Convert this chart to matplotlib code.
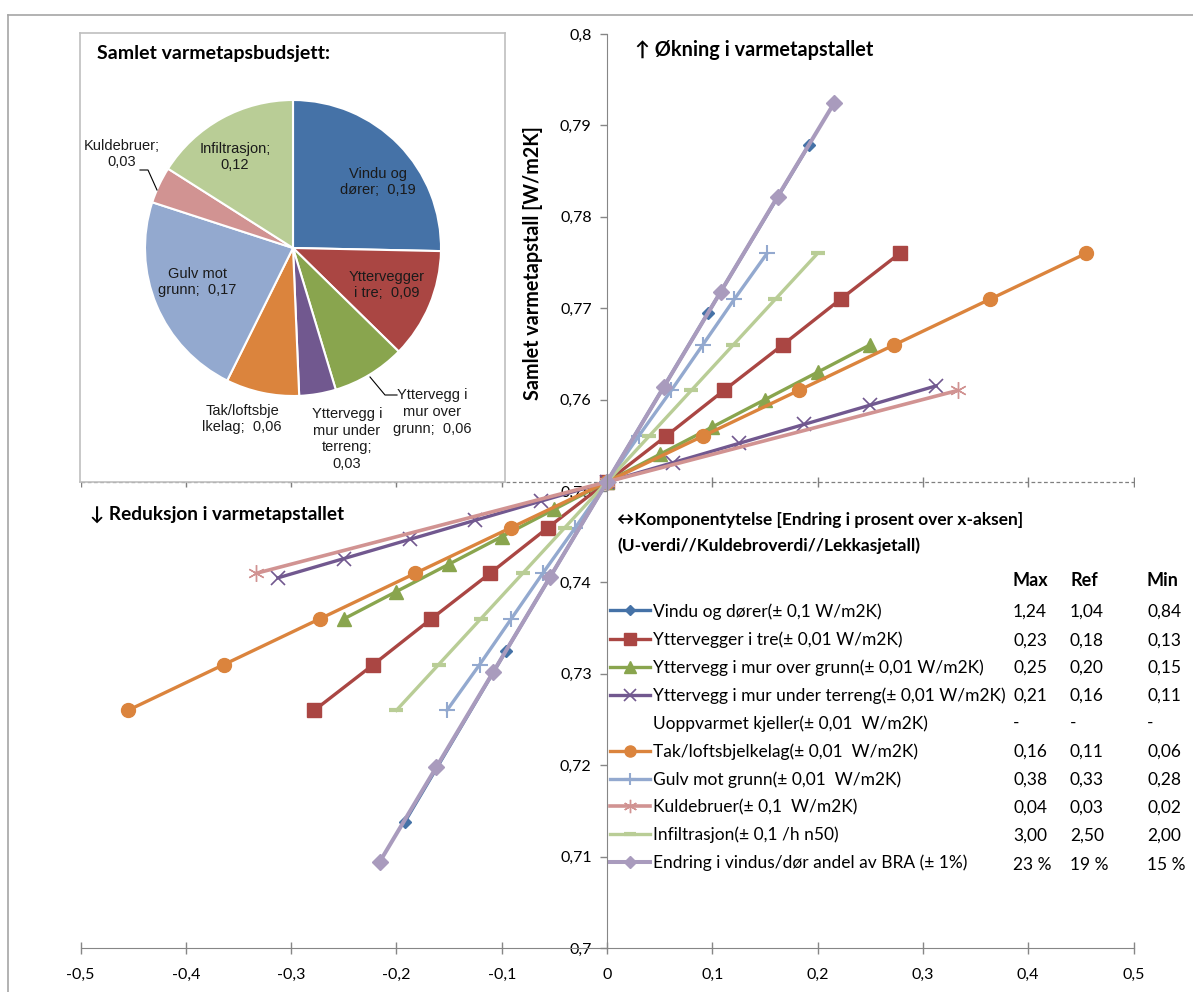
import matplotlib
matplotlib.use("Agg")
import matplotlib.pyplot as plt
from matplotlib import font_manager
from matplotlib.lines import Line2D
from matplotlib.ticker import FuncFormatter, MultipleLocator

# ---- data ----
vindu_x = [-0.192, -0.096, 0, 0.096, 0.192]
vindu_y = [0.7138, 0.7325, 0.751, 0.7695, 0.7879]

tre_x = [-0.278, -0.222, -0.167, -0.111, -0.056, 0, 0.056, 0.111, 0.167, 0.222, 0.278]
tre_y = [0.726, 0.731, 0.736, 0.741, 0.746, 0.751, 0.756, 0.761, 0.766, 0.771, 0.776]

over_x = [-0.25, -0.2, -0.15, -0.1, -0.05, 0, 0.05, 0.1, 0.15, 0.2, 0.25]
over_y = [0.736, 0.739, 0.742, 0.745, 0.748, 0.751, 0.754, 0.757, 0.760, 0.763, 0.766]

under_x = [-0.3125, -0.25, -0.1875, -0.125, -0.0625, 0, 0.0625, 0.125, 0.1875, 0.25, 0.3125]
under_y = [0.7405, 0.7426, 0.7447, 0.7468, 0.7489, 0.751, 0.7531, 0.7552, 0.7573, 0.7594, 0.7615]

tak_x = [-0.455, -0.364, -0.273, -0.182, -0.091, 0, 0.091, 0.182, 0.273, 0.364, 0.455]
tak_y = [0.726, 0.731, 0.736, 0.741, 0.746, 0.751, 0.756, 0.761, 0.766, 0.771, 0.776]

gulv_x = [-0.152, -0.121, -0.091, -0.061, -0.030, 0, 0.030, 0.061, 0.091, 0.121, 0.152]
gulv_y = [0.726, 0.731, 0.736, 0.741, 0.746, 0.751, 0.756, 0.761, 0.766, 0.771, 0.776]

kulde_x = [-0.333, 0, 0.333]
kulde_y = [0.741, 0.751, 0.761]

infil_x = [-0.2, -0.16, -0.12, -0.08, -0.04, 0, 0.04, 0.08, 0.12, 0.16, 0.2]
infil_y = [0.726, 0.731, 0.736, 0.741, 0.746, 0.751, 0.756, 0.761, 0.766, 0.771, 0.776]

endring_x = [-0.216, -0.162, -0.108, -0.054, 0, 0.054, 0.108, 0.162, 0.216]
endring_y = [0.7094, 0.7198, 0.7302, 0.7406, 0.751, 0.7614, 0.7718, 0.7822, 0.7925]

ref_level = 0.751

legend_labels = [
    "Vindu og dører(± 0,1 W/m2K)",
    "Yttervegger i tre(± 0,01 W/m2K)",
    "Yttervegg i mur over grunn(± 0,01 W/m2K)",
    "Yttervegg i mur under terreng(± 0,01 W/m2K)",
    "Uoppvarmet kjeller(± 0,01  W/m2K)",
    "Tak/loftsbjelkelag(± 0,01  W/m2K)",
    "Gulv mot grunn(± 0,01  W/m2K)",
    "Kuldebruer(± 0,1  W/m2K)",
    "Infiltrasjon(± 0,1 /h n50)",
    "Endring i vindus/dør andel av BRA (± 1%)",
]
max_vals = ["1,24", "0,23", "0,25", "0,21", "-", "0,16", "0,38", "0,04", "3,00", "23 %"]
ref_vals = ["1,04", "0,18", "0,20", "0,16", "-", "0,11", "0,33", "0,03", "2,50", "19 %"]
min_vals = ["0,84", "0,13", "0,15", "0,11", "-", "0,06", "0,28", "0,02", "2,00", "15 %"]

pie_labels = ["Vindu og\ndører;  0,19", "Yttervegger\ni tre;  0,09",
              "Yttervegg i\nmur over\ngrunn;  0,06", "Yttervegg i\nmur under\nterreng;\n0,03",
              "Tak/loftsbje\nlkelag;  0,06", "Gulv mot\ngrunn;  0,17",
              "Kuldebruer;\n0,03", "Infiltrasjon;\n0,12"]
pie_values = [0.19, 0.09, 0.06, 0.03, 0.06, 0.17, 0.03, 0.12]
pie_colors = ["#4572A7", "#AA4643", "#89A54E", "#71588F", "#DB843D", "#93A9CF", "#D19392", "#B9CD96"]

# ---- fonts ----
installed = {f.name for f in font_manager.fontManager.ttflist}
main_font = ["Lato", "DejaVu Sans"] if "Lato" in installed else ["DejaVu Sans"]
narrow_font = ["Liberation Sans Narrow", "Liberation Sans", "DejaVu Sans"]
narrow_font = [f for f in narrow_font if f in installed] or ["DejaVu Sans"]
plt.rcParams["font.family"] = main_font

W, H = 1193, 992
fig = plt.figure(figsize=(W / 100, H / 100), dpi=100)


def fx(px):
    return px / W


def fy(py):
    return 1 - py / H


# outer chart border
fig.add_artist(Line2D([fx(8), 1], [fy(15), fy(15)], color="#A6A6A6", lw=1.2))
fig.add_artist(Line2D([fx(8), fx(8)], [fy(15), 0], color="#A6A6A6", lw=1.2))

ax = fig.add_axes([fx(80.5), fy(948), fx(1053), 914 / H])
ax.set_xlim(-0.5, 0.5)
ax.set_ylim(0.7, 0.8)

for s in ["top", "right"]:
    ax.spines[s].set_visible(False)
ax.spines["left"].set_position(("data", 0))
ax.spines["left"].set_color("#868686")
ax.spines["bottom"].set_color("#868686")

fmt = FuncFormatter(lambda v, p: f"{round(v, 3):g}".replace(".", ","))
ax.xaxis.set_major_locator(MultipleLocator(0.1))
ax.yaxis.set_major_locator(MultipleLocator(0.01))
ax.xaxis.set_major_formatter(fmt)
ax.yaxis.set_major_formatter(fmt)
ax.tick_params(axis="y", direction="out", length=5, width=1, color="#868686",
               labelsize=11.5, pad=6)
ax.tick_params(axis="x", direction="inout", length=9, width=1, color="#868686",
               labelsize=11.5, pad=10)

# dashed reference line with its own tick marks
ax.axhline(ref_level, color="#7F7F7F", lw=0.9, ls=(0, (3, 2)), zorder=1)
xt = [-0.5, -0.4, -0.3, -0.2, -0.1, 0.1, 0.2, 0.3, 0.4, 0.5]
ax.plot(xt, [ref_level] * len(xt), ls="none", marker="|", ms=7, mew=1, color="#7F7F7F", zorder=1)

handles = []
h, = ax.plot(vindu_x, vindu_y, color="#4572A7", lw=2.4, marker="D", ms=6.5)
handles.append(h)
h, = ax.plot(tre_x, tre_y, color="#AA4643", lw=2.4, marker="s", ms=10)
handles.append(h)
h, = ax.plot(over_x, over_y, color="#89A54E", lw=2.4, marker="^", ms=10)
handles.append(h)
h, = ax.plot(under_x, under_y, color="#71588F", lw=2.4, marker="x", ms=10, mew=1.2)
handles.append(h)
handles.append(Line2D([], [], ls="none"))
h, = ax.plot(tak_x, tak_y, color="#DB843D", lw=2.4, marker="o", ms=10)
handles.append(h)
h, = ax.plot(gulv_x, gulv_y, color="#93A9CF", lw=2.4, marker="+", ms=11, mew=1.5)
handles.append(h)
h, = ax.plot(kulde_x, kulde_y, color="#D19392", lw=2.6, marker=(6, 2, 0), ms=12, mew=1)
handles.append(h)
h, = ax.plot(infil_x, infil_y, color="#B9CD96", lw=2.4, marker="_", ms=10, mew=3)
handles.append(h)
h, = ax.plot(endring_x, endring_y, color="#A99BBD", lw=2.9, marker="D", ms=8)
handles.append(h)

leg = fig.legend(handles, legend_labels, loc="upper left",
                 bbox_to_anchor=(fx(610), fy(603)), frameon=False,
                 fontsize=12.5, handlelength=2.3, handletextpad=0.2,
                 labelspacing=0.66, borderpad=0, borderaxespad=0, markerscale=0.8)

# table next to the legend
row_y = [612, 641, 668, 696, 723, 752, 780, 808, 836, 865]
fig.text(fx(1013), fy(580), "Max", fontsize=13, fontweight="bold", va="center")
fig.text(fx(1070), fy(580), "Ref", fontsize=13, fontweight="bold", va="center")
fig.text(fx(1147), fy(580), "Min", fontsize=13, fontweight="bold", va="center")
for yy, a, b, c in zip(row_y, max_vals, ref_vals, min_vals):
    fig.text(fx(1013), fy(yy), a, fontsize=12.5, va="center")
    fig.text(fx(1070), fy(yy), b, fontsize=12.5, va="center")
    fig.text(fx(1147), fy(yy), c, fontsize=12.5, va="center")

# annotation texts
fig.text(fx(635), fy(50), "↑ Økning i varmetapstallet", fontsize=14.3, fontweight="bold",
         va="center", family=main_font)
fig.text(fx(90), fy(514), "↓ Reduksjon i varmetapstallet", fontsize=13.7, fontweight="bold",
         va="center", family=main_font)
fig.text(fx(617), fy(520), "↔Komponentytelse [Endring i prosent over x-aksen]", fontsize=12.5,
         fontweight="bold", va="center", family=main_font)
fig.text(fx(617), fy(546), "(U-verdi//Kuldebroverdi//Lekkasjetall)", fontsize=12.5,
         fontweight="bold", va="center", family=main_font)
fig.text(fx(533), fy(263), "Samlet varmetapstall [W/m2K]", fontsize=14.2, fontweight="bold",
         rotation=90, ha="center", va="center")

# ---- pie inset ----
box = fig.add_axes([fx(80), fy(482), fx(425), 449 / H])
box.set_xticks([])
box.set_yticks([])
for s in box.spines.values():
    s.set_color("#BFBFBF")
    s.set_linewidth(1.2)
box.text(17 / 425, 1 - 20 / 449, "Samlet varmetapsbudsjett:", fontsize=14,
         fontweight="bold", va="center", transform=box.transAxes)

r = 148
pie_ax = fig.add_axes([fx(293 - r), fy(248 + r), fx(2 * r), 2 * r / H])
pie_ax.pie(pie_values, colors=pie_colors, startangle=90, counterclock=False,
           radius=1, wedgeprops=dict(edgecolor="white", linewidth=1.5))
pie_ax.set_xlim(-1, 1)
pie_ax.set_ylim(-1, 1)
pie_ax.set_aspect("equal")
pie_ax.axis("off")

label_px = [(378, 182), (387, 285), (432, 412), (347, 439),
            (242, 419), (197, 282), (122, 154), (235, 157)]
for (px, py), lab in zip(label_px, pie_labels):
    pie_ax.text((px - 293) / r, (248 - py) / r, lab, ha="center", va="center",
                fontsize=10.5, family=narrow_font, color="#1A1A1A", linespacing=1.25,
                clip_on=False)

# leader lines
pie_ax.plot([(140 - 293) / r, (148 - 293) / r, (157 - 293) / r],
            [(248 - 170) / r, (248 - 170) / r, (248 - 190) / r],
            color="black", lw=0.8, clip_on=False)
pie_ax.plot([(370 - 293) / r, (385 - 293) / r, (397 - 293) / r],
            [(248 - 377) / r, (248 - 395) / r, (248 - 395) / r],
            color="black", lw=0.8, clip_on=False)

fig.savefig("out.png", dpi=100)
